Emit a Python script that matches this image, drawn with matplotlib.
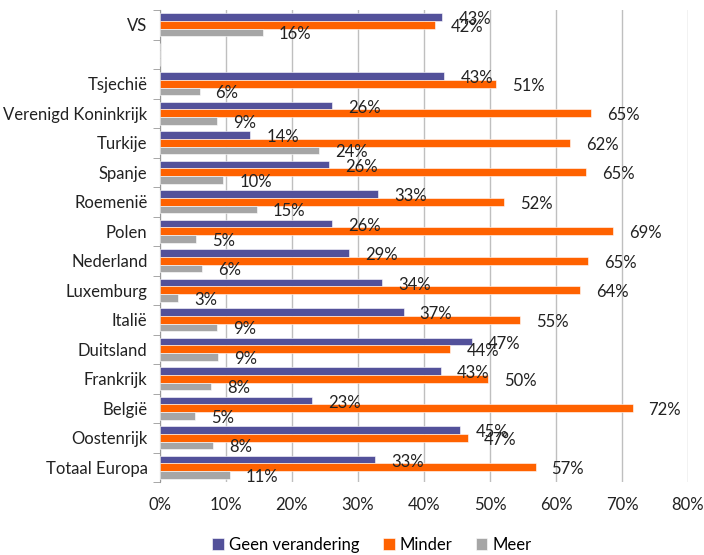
import matplotlib
matplotlib.use("Agg")
import matplotlib.pyplot as plt
import numpy as np

plt.rcParams['font.family'] = ['Lato', 'DejaVu Sans']

categories = ["VS", "", "Tsjechië", "Verenigd Koninkrijk", "Turkije", "Spanje",
              "Roemenië", "Polen", "Nederland", "Luxemburg", "Italië", "Duitsland",
              "Frankrijk", "België", "Oostenrijk", "Totaal Europa"]
geen = [42.8, None, 43.1, 26.1, 13.7, 25.6, 33.0, 26.1, 28.6, 33.7, 36.9, 47.2,
        42.6, 23.1, 45.4, 32.6]
minder = [41.6, None, 50.9, 65.3, 62.1, 64.6, 52.1, 68.6, 64.9, 63.6, 54.6, 44.0,
          49.7, 71.6, 46.6, 56.9]
meer = [15.6, None, 6.0, 8.6, 24.1, 9.6, 14.7, 5.4, 6.4, 2.7, 8.7, 8.8,
        7.7, 5.3, 8.0, 10.6]
series_names = ["Geen verandering", "Minder", "Meer"]
colors = ["#53519A", "#FF6200", "#A6A6A6"]
xticks = [0, 10, 20, 30, 40, 50, 60, 70, 80]

FS = 12
fig = plt.figure(figsize=(7.04, 5.55), dpi=100)
ax = fig.add_axes([160/704, 1-482/555, 528/704, 472/555])

n = len(categories)
ypos = np.arange(n)
bh = 0.26
handles = []
for k, (vals, c, name) in enumerate(zip([geen, minder, meer], colors, series_names)):
    ys = ypos + (k - 1) * bh
    v = np.array([np.nan if x is None else x for x in vals], dtype=float)
    h = ax.barh(ys, np.nan_to_num(v), height=bh, color=c, edgecolor='white',
                linewidth=0.4, label=name, zorder=3)
    handles.append(h)
    for y, val in zip(ys, v):
        if np.isnan(val):
            continue
        ax.annotate(f"{round(val):d}%", xy=(val, y), xytext=(16, -2),
                    textcoords='offset pixels', ha='left', va='center',
                    fontsize=FS, color='#222222', zorder=4)

ax.set_ylim(n - 0.5, -0.5)
ax.set_xlim(0, 80)
ax.set_xticks(xticks)
ax.set_xticklabels([f"{t}%" for t in xticks], fontsize=FS, color='#222222')
ax.set_yticks(ypos)
ax.set_yticklabels(categories, fontsize=FS, color='#222222')
ax.set_yticks(np.arange(n + 1) - 0.5, minor=True)
ax.tick_params(axis='y', which='major', length=0, pad=9)
ax.tick_params(axis='y', which='minor', length=5, color='#999999')
ax.tick_params(axis='x', length=0, pad=11)
ax.grid(axis='x', color='#BFBFBF', linewidth=1, zorder=0)
for s in ['top', 'right', 'bottom']:
    ax.spines[s].set_visible(False)
ax.spines['left'].set_color('#999999')

fig.legend(handles=handles, labels=series_names, loc='center', ncol=3,
           bbox_to_anchor=(372/704, 1-545/555), frameon=False, fontsize=FS,
           handlelength=0.7, handleheight=0.7, handletextpad=0.3, columnspacing=1.4)

fig.savefig("out.png", dpi=100)
